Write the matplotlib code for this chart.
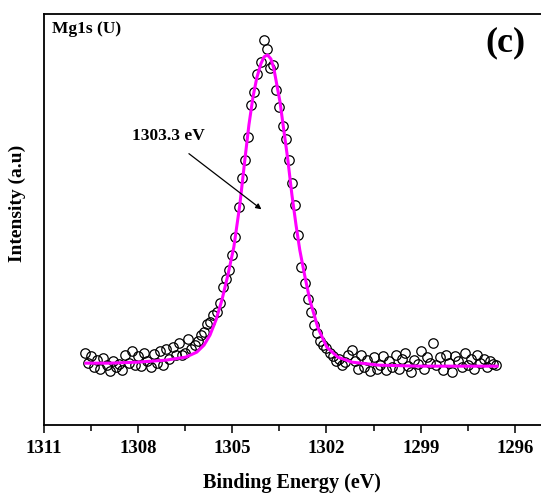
import matplotlib
matplotlib.use('Agg')
import matplotlib.pyplot as plt

plt.rcParams['font.family'] = ['Liberation Serif', 'DejaVu Serif']
plt.rcParams['font.weight'] = 'bold'

# measured points (binding energy in eV, intensity in a.u.)
be_data = [1309.7, 1309.6, 1309.5, 1309.4, 1309.3, 1309.2, 1309.1, 1309.0, 1308.9, 1308.8,
           1308.7, 1308.6, 1308.5, 1308.4, 1308.3, 1308.2, 1308.1, 1308.0, 1307.9, 1307.8,
           1307.7, 1307.6, 1307.5, 1307.4, 1307.3, 1307.2, 1307.1, 1307.0, 1306.9, 1306.8,
           1306.7, 1306.6, 1306.5, 1306.4, 1306.3, 1306.2, 1306.1, 1306.0, 1305.9, 1305.8,
           1305.7, 1305.6, 1305.5, 1305.4, 1305.3, 1305.2, 1305.1, 1305.0, 1304.9, 1304.8,
           1304.7, 1304.6, 1304.5, 1304.4, 1304.3, 1304.2, 1304.1, 1304.0, 1303.9, 1303.8,
           1303.7, 1303.6, 1303.5, 1303.4, 1303.3, 1303.2, 1303.1, 1303.0, 1302.9, 1302.8,
           1302.7, 1302.6, 1302.5, 1302.4, 1302.3, 1302.2, 1302.1, 1302.0, 1301.9, 1301.8,
           1301.7, 1301.6, 1301.5, 1301.4, 1301.3, 1301.2, 1301.1, 1301.0, 1300.9, 1300.8,
           1300.7, 1300.6, 1300.5, 1300.4, 1300.3, 1300.2, 1300.1, 1300.0, 1299.9, 1299.8,
           1299.7, 1299.6, 1299.5, 1299.4, 1299.3, 1299.2, 1299.1, 1299.0, 1298.9, 1298.8,
           1298.7, 1298.6, 1298.5, 1298.4, 1298.3, 1298.2, 1298.1, 1298.0, 1297.9, 1297.8,
           1297.7, 1297.6, 1297.5, 1297.4, 1297.3, 1297.2, 1297.1, 1297.0, 1296.9, 1296.8,
           1296.7, 1296.6]
int_data = [720, 620, 690, 580, 650, 560, 670, 600, 540, 640,
            580, 610, 550, 700, 620, 740, 600, 690, 590, 720,
            640, 580, 710, 620, 740, 600, 760, 660, 780, 700,
            820, 700, 720, 860, 760, 800, 840, 900, 930, 1010,
            1030, 1100, 1130, 1220, 1380, 1460, 1550, 1700, 1880, 2180,
            2470, 2650, 2880, 3200, 3330, 3510, 3630, 3850, 3760, 3570,
            3600, 3350, 3180, 2990, 2860, 2650, 2420, 2200, 1900, 1580,
            1420, 1260, 1130, 1000, 920, 840, 800, 770, 720, 690,
            640, 660, 600, 630, 700, 750, 640, 560, 700, 580,
            650, 540, 680, 560, 600, 690, 550, 640, 580, 700,
            560, 660, 720, 590, 530, 650, 610, 740, 560, 680,
            620, 820, 600, 680, 550, 700, 620, 530, 690, 640,
            580, 720, 600, 660, 560, 700, 620, 660, 580, 640,
            610, 600]

# fitted curve
be_fit = [1309.66, 1308.90, 1308.01, 1307.11, 1306.48, 1306.13, 1305.90, 1305.71, 1305.52,
          1305.33, 1305.14, 1304.95, 1304.76, 1304.60, 1304.47, 1304.34, 1304.22, 1304.09,
          1303.99, 1303.88, 1303.77, 1303.68, 1303.58, 1303.48, 1303.36, 1303.23, 1303.10,
          1302.97, 1302.85, 1302.69, 1302.53, 1302.27, 1301.99, 1301.64, 1301.19, 1300.33,
          1299.03, 1298.13, 1296.57]
int_fit = [620, 620, 630, 650, 680, 730, 800, 900, 1050,
           1250, 1500, 1780, 2200, 2650, 3000, 3280, 3470, 3610,
           3680, 3700, 3660, 3570, 3400, 3230, 2950, 2650, 2300,
           2000, 1750, 1490, 1250, 970, 780, 680, 630, 600,
           590, 590, 590]

x_ticks = [1311, 1308, 1305, 1302, 1299, 1296]

fig = plt.figure(figsize=(5.41, 4.95), dpi=100)
ax = fig.add_axes([0.081, 0.141, 0.919, 0.831])

ax.plot(be_data, int_data, 'o', mfc='none', mec='black', ms=6.8, mew=0.9, zorder=2)
ax.plot(be_fit, int_fit, color='#ff00ff', lw=2.2, zorder=3)

ax.set_xlim(1311, 1295.17)
ax.set_ylim(0, 4110)
ax.set_xticks(x_ticks)
ax.set_xticks([1309.5, 1306.5, 1303.5, 1300.5, 1297.5], minor=True)
ax.set_yticks([])
ax.tick_params(axis='x', which='major', direction='out', length=6, width=1.1,
               labelsize=13.5, pad=5)
ax.tick_params(axis='x', which='minor', direction='out', length=4, width=1.1)
ax.spines['right'].set_visible(False)
for s in ['left', 'top', 'bottom']:
    ax.spines[s].set_linewidth(1.3)

ax.set_xlabel('Binding Energy (eV)', fontsize=14.5, fontweight='bold', labelpad=11)
ax.set_ylabel('Intensity (a.u)', fontsize=14, fontweight='bold')
ax.yaxis.set_label_coords(-0.036, 0.54)

ax.text(0.016, 0.982, 'Mg1s (U)', transform=ax.transAxes, fontsize=12.5,
        fontweight='bold', va='top', ha='left')
ax.text(0.928, 0.929, '(c)', transform=ax.transAxes, fontsize=26,
        fontweight='bold', va='center', ha='center')

ax.annotate('', xy=(1304.0, 2140), xytext=(1306.45, 2730),
            arrowprops=dict(arrowstyle='-|>', color='black', lw=0.9,
                            mutation_scale=8))
ax.text(1307.05, 2890, '1303.3 eV', fontsize=12.5, fontweight='bold',
        ha='center', va='center')

fig.savefig('out.png', dpi=100)
